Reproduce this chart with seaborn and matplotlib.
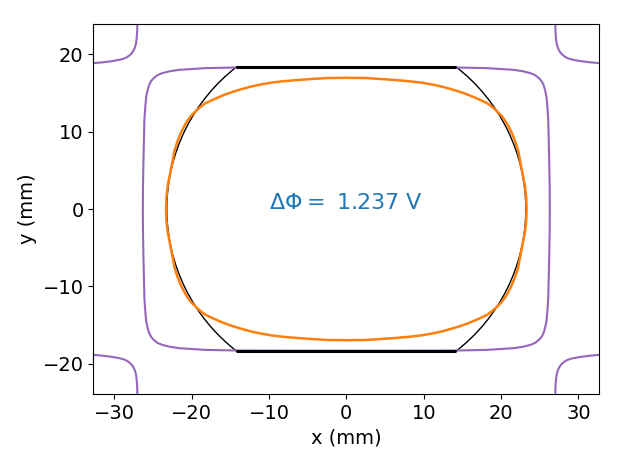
import numpy as np
import matplotlib
matplotlib.use("Agg")
import matplotlib.pyplot as plt
import seaborn as sns
from matplotlib.patches import Arc

# electrode outline (circle cut by two flats)
electrode_radius = 23.2
electrode_flat_x = [-14.1, 14.1]
electrode_flat_y = 18.4
electrode_half_angle = 52.5  # deg, where the arc meets the flat

# orange contour, first quadrant, from (0, top) to (right, 0)
orange_x = [0.0, 2.5, 4.4, 6.5, 8.2, 9.6, 11.0, 12.2, 13.3, 14.5, 15.5, 16.5, 17.5, 18.2,
            18.9, 19.5, 20.1, 20.6, 21.0, 21.4, 21.8, 22.2, 22.4, 22.6, 22.85, 23.1, 23.25, 23.3]
orange_y = [16.95, 16.92, 16.8, 16.65, 16.5, 16.34, 16.1, 15.85, 15.55, 15.2, 14.85, 14.45, 14.0, 13.67,
            13.15, 12.6, 12.0, 11.3, 10.6, 9.8, 8.8, 7.6, 6.5, 5.5, 4.2, 2.9, 1.5, 0.0]

# purple inner contour, first quadrant
purple_x = [0.0, 8.0, 14.3, 18.2, 20.5, 21.6, 22.8, 23.8, 24.4, 24.9, 25.25, 25.5, 25.7,
            25.87, 26.0, 26.1, 26.22, 26.28, 26.3]
purple_y = [18.3, 18.3, 18.28, 18.2, 18.05, 17.98, 17.8, 17.55, 17.3, 16.9, 16.5, 16.0, 15.3,
            14.5, 13.0, 11.5, 6.3, 3.0, 0.0]

# purple outer corner branch, first quadrant
corner_x = [27.0, 27.03, 27.1, 27.2, 27.35, 27.55, 27.8, 28.15, 28.55, 29.2, 30.3, 31.5, 32.6, 33.5]
corner_y = [24.5, 23.0, 22.0, 21.3, 20.8, 20.4, 20.05, 19.75, 19.5, 19.3, 19.1, 18.95, 18.85, 18.8]

label_text = r"$\Delta\Phi =$ 1.237 V"


def mirror(qx, qy):
    qx, qy = np.asarray(qx), np.asarray(qy)
    xs = np.concatenate([qx, qx[::-1], -qx, -qx[::-1]])
    ys = np.concatenate([qy, -qy[::-1], -qy, qy[::-1]])
    return xs, ys


sns.set_style("ticks", {"axes.edgecolor": "black", "xtick.color": "black", "ytick.color": "black",
                        "axes.labelcolor": "black", "text.color": "black"})
plt.rcParams["font.family"] = ["DejaVu Sans"]
plt.rcParams["mathtext.fontset"] = "dejavusans"

fig = plt.figure(figsize=(6.23, 4.67), dpi=100)
ax = fig.add_axes([0.1498, 0.1563, 0.8122, 0.7923])

px, py = mirror(purple_x, purple_y)
sns.lineplot(x=px, y=py, sort=False, estimator=None, color="tab:purple", lw=1.5, ax=ax)
for sx in (1, -1):
    for sy in (1, -1):
        sns.lineplot(x=sx * np.asarray(corner_x), y=sy * np.asarray(corner_y), sort=False,
                     estimator=None, color="tab:purple", lw=1.5, ax=ax)

for sy in (1, -1):
    sns.lineplot(x=electrode_flat_x, y=[sy * electrode_flat_y] * 2, sort=False,
                 estimator=None, color="black", lw=2.2, ax=ax)
ax.add_patch(Arc((0, 0), 2 * electrode_radius, 2 * electrode_radius,
                 theta1=-electrode_half_angle, theta2=electrode_half_angle, color="black", lw=1))
ax.add_patch(Arc((0, 0), 2 * electrode_radius, 2 * electrode_radius,
                 theta1=180 - electrode_half_angle, theta2=180 + electrode_half_angle, color="black", lw=1))

ox, oy = mirror(orange_x, orange_y)
sns.lineplot(x=ox, y=oy, sort=False, estimator=None, color="tab:orange", lw=1.8, ax=ax)

ax.text(0, 0, label_text, ha="center", va="baseline", color="tab:blue", fontsize=16)

ax.set_xlim(-32.7, 32.7)
ax.set_ylim(-23.9, 23.9)
ax.set_xticks([-30, -20, -10, 0, 10, 20, 30])
ax.set_yticks([-20, -10, 0, 10, 20])
ax.tick_params(labelsize=14)
ax.set_xlabel("x (mm)", fontsize=14)
ax.set_ylabel("y (mm)", fontsize=14)

fig.savefig("out.png", dpi=100)
